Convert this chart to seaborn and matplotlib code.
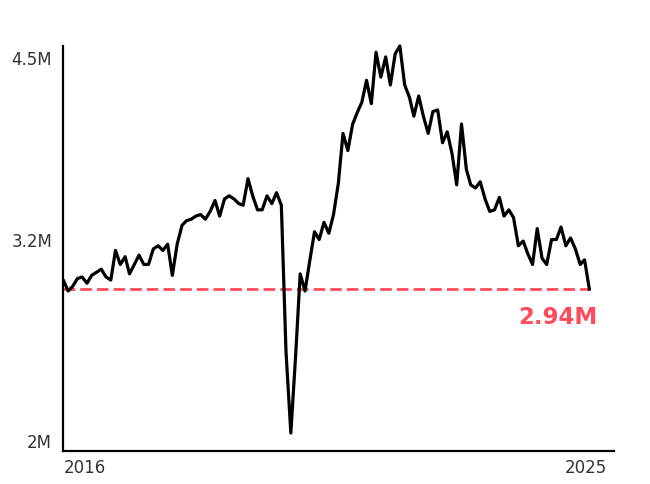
import matplotlib
matplotlib.use('Agg')
import matplotlib.pyplot as plt
import matplotlib.transforms as mtrans
import seaborn as sns
import pandas as pd

# monthly series, millions
values = [
    3.00, 2.93, 2.96, 3.01, 3.02, 2.98, 3.03, 3.05, 3.07, 3.02,
    3.00, 3.19, 3.10, 3.15, 3.04, 3.10, 3.16, 3.10, 3.10, 3.20,
    3.22, 3.19, 3.23, 3.03, 3.23, 3.35, 3.38, 3.39, 3.41, 3.42,
    3.39, 3.44, 3.51, 3.41, 3.52, 3.54, 3.52, 3.49, 3.48, 3.65,
    3.54, 3.45, 3.45, 3.54, 3.49, 3.56, 3.48, 2.54, 2.02, 2.52,
    3.04, 2.93, 3.12, 3.31, 3.26, 3.37, 3.30, 3.42, 3.62, 3.94,
    3.83, 4.00, 4.07, 4.14, 4.28, 4.13, 4.46, 4.30, 4.43, 4.25,
    4.45, 4.50, 4.25, 4.17, 4.05, 4.18, 4.05, 3.94, 4.08, 4.09,
    3.88, 3.95, 3.81, 3.61, 4.00, 3.71, 3.61, 3.59, 3.63, 3.52,
    3.44, 3.45, 3.53, 3.41, 3.45, 3.40, 3.22, 3.25, 3.17, 3.10,
    3.33, 3.14, 3.10, 3.26, 3.26, 3.34, 3.22, 3.27, 3.20, 3.10,
    3.13, 2.94,
]
dates = pd.date_range('2016-01-01', periods=len(values), freq='MS')
latest = values[-1]
latest_label = '2.94M'
y_ticks = [2.0, 3.2, 4.5]
y_labels = ['2M', '3.2M', '4.5M']
x_labels = ['2016', '2025']

red = '#ff4b5c'

sns.set_style('white')
plt.rcParams['font.family'] = ['DejaVu Sans']

fig = plt.figure(figsize=(6.5, 4.84), dpi=100)
ax = fig.add_axes([0.0974, 0.0682, 0.8472, 0.8368])

df = pd.DataFrame({'date': dates, 'value': values})
sns.lineplot(data=df, x='date', y='value', ax=ax, color='black',
             linewidth=2.3, clip_on=False, zorder=3)

ax.plot([dates[0], dates[-1]], [latest, latest], color=red, linewidth=2.0,
        dashes=(4.2, 1.8), zorder=2)
ax.annotate(latest_label, xy=(dates[-1], latest), xytext=(6, -12),
            textcoords='offset points', ha='right', va='top',
            color=red, fontsize=16.5, fontweight='bold')

ax.set_xlim(dates[0], dates[-1] + pd.Timedelta(days=158))
ax.set_ylim(1.905, 4.473)

ax.set_yticks(y_ticks)
ax.set_yticklabels(y_labels)
ax.set_xticks([dates[0], dates[-1]])
ax.set_xticklabels(x_labels)
ax.get_xticklabels()[0].set_ha('left')

ax.tick_params(axis='both', length=0, labelsize=12, colors='#333333')
ax.tick_params(axis='y', pad=8)
ax.tick_params(axis='x', pad=6)

for lab, dy in zip(ax.get_yticklabels(), [-5, 9, -12]):
    lab.set_transform(lab.get_transform() +
                      mtrans.ScaledTranslation(0, dy / 100, fig.dpi_scale_trans))
last_lab = ax.get_xticklabels()[-1]
last_lab.set_transform(last_lab.get_transform() +
                       mtrans.ScaledTranslation(-4 / 100, 0, fig.dpi_scale_trans))

ax.set_xlabel('')
ax.set_ylabel('')
sns.despine(ax=ax)
for side in ['left', 'bottom']:
    ax.spines[side].set_linewidth(1.6)
    ax.spines[side].set_color('black')

fig.savefig('out.png', dpi=100)
